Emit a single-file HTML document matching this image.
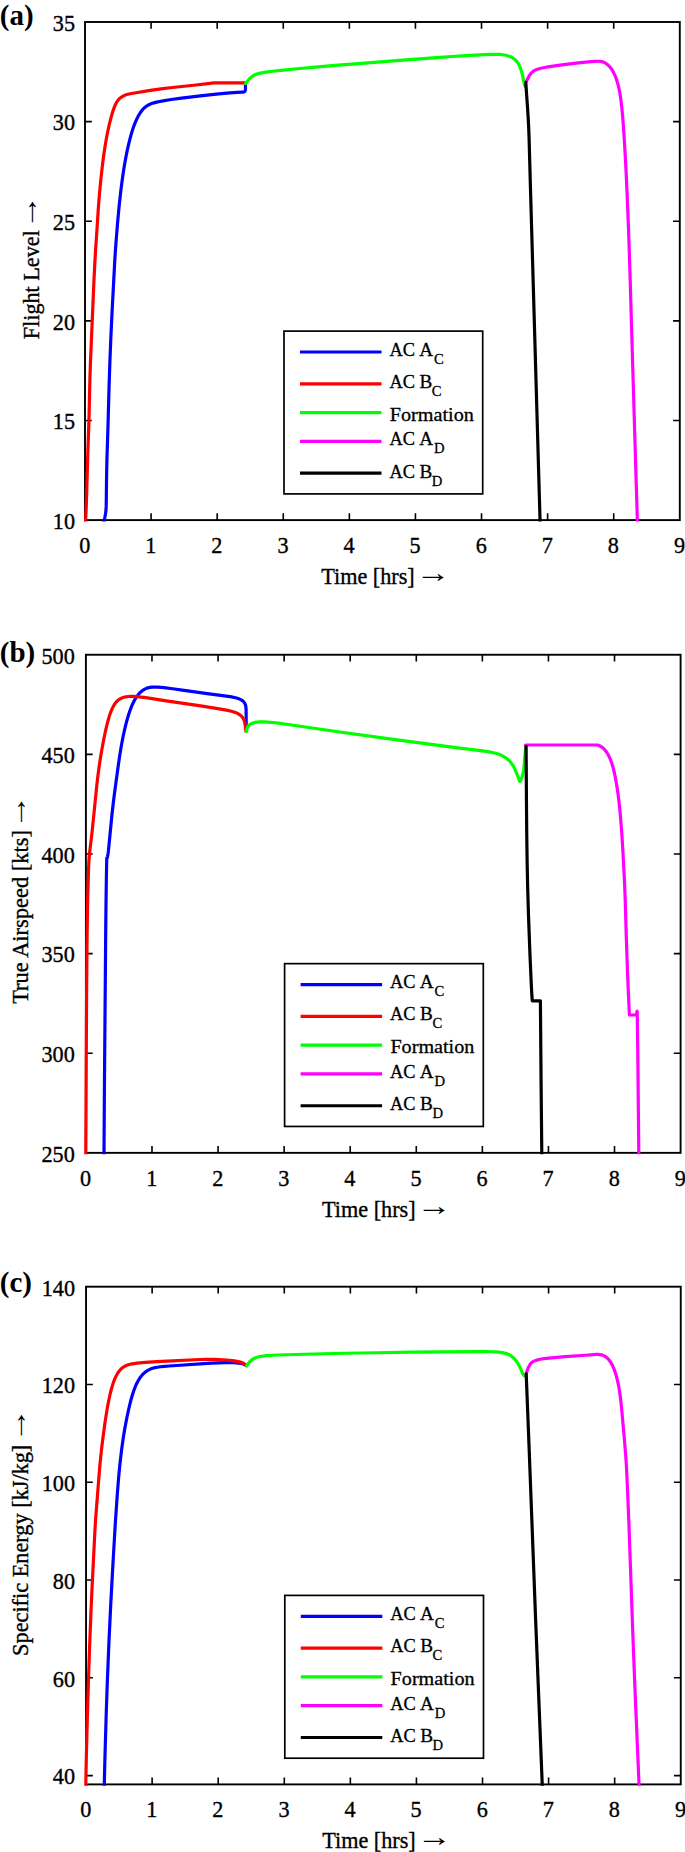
<!DOCTYPE html>
<html lang="en">
<head>
<meta charset="utf-8">
<title>Formation flight profiles</title>
<style>
html,body{margin:0;padding:0;background:#fff;}
body{width:685px;height:1852px;overflow:hidden;}
svg{display:block;}
text{font-family:"Liberation Serif", "DejaVu Serif", serif;fill:#000;}
.tk{font-size:22.2px;stroke:#000;stroke-width:0.35px;}
.ar{font-size:22.2px;}
.lg{font-size:19.2px;stroke:#000;stroke-width:0.3px;}
.sb{font-size:14.6px;stroke:#000;stroke-width:0.3px;}
.pn{font-size:29px;font-weight:bold;}
.ax{stroke:#000;stroke-width:1.9;fill:none;}
.tick{stroke:#000;stroke-width:1.6;fill:none;}
.cv{fill:none;stroke-width:3.2;stroke-linejoin:round;stroke-linecap:round;}
</style>
</head>
<body>
<svg width="685" height="1852" viewBox="0 0 685 1852">
<rect x="0" y="0" width="685" height="1852" fill="#ffffff"/>
<g id="chart-a">
<rect class="ax" x="85" y="22" width="594.8" height="498.1"/>
<path class="tick" d="M151.09 520.1 v-6.8 M151.09 22 v6.8 M217.18 520.1 v-6.8 M217.18 22 v6.8 M283.27 520.1 v-6.8 M283.27 22 v6.8 M349.36 520.1 v-6.8 M349.36 22 v6.8 M415.44 520.1 v-6.8 M415.44 22 v6.8 M481.53 520.1 v-6.8 M481.53 22 v6.8 M547.62 520.1 v-6.8 M547.62 22 v6.8 M613.71 520.1 v-6.8 M613.71 22 v6.8 M85 420.48 h6.8 M679.8 420.48 h-6.8 M85 320.86 h6.8 M679.8 320.86 h-6.8 M85 221.24 h6.8 M679.8 221.24 h-6.8 M85 121.62 h6.8 M679.8 121.62 h-6.8"/>
<clipPath id="clip-a"><rect x="83" y="22" width="598.8" height="499.5"/></clipPath>
<g clip-path="url(#clip-a)">
<path class="cv" stroke="#0000ff" d="M103.8 522 L104.85 517.39 L105.48 514.02 L105.89 510.85 L106.15 506.9 L106.26 502.56 L106.57 476.57 L106.9 460.81 L108.03 425.03 L109.13 384.43 L109.97 359.57 L110.9 336.42 L111.99 313.46 L114.62 263.55 L115.18 254.18 L115.81 245.07 L117.46 224.17 L119.05 206.95 L120.82 190.81 L121.74 183.52 L122.74 176.27 L123.83 169.1 L124.87 162.82 L125.99 156.68 L127.2 150.68 L128.48 144.87 L129.86 139.27 L131.14 134.57 L132.5 130.1 L133.53 127.05 L134.6 124.15 L135.72 121.39 L136.65 119.3 L137.87 116.84 L138.88 115 L139.93 113.28 L141.01 111.68 L142.14 110.22 L143.3 108.89 L144.51 107.71 L145.76 106.67 L147.06 105.76 L148.43 104.96 L149.88 104.26 L151.81 103.51 L153.91 102.84 L156.68 102.13 L159.75 101.46 L163.1 100.82 L171.17 99.52 L181.48 98.12 L200.36 95.86 L216.28 94.13 L229.65 92.91 L241.6 92.1 L242.47 92.18 L243.21 92.17 L243.82 92.05 L244.31 91.84 L244.7 91.53 L245 91.12 L245.21 90.63 L245.36 90.04 L245.49 88.61 L245.4 83.6"/>
<path class="cv" stroke="#ff0000" d="M85.3 522 L85.43 521.46 L85.57 520.14 L85.86 515.63 L86.21 507.51 L86.57 497.22 L87.82 452.54 L88.93 421.13 L89.89 379.75 L90.44 362.37 L93.86 282.46 L94.83 262.94 L95.77 247.18 L97.12 227.35 L98.21 210.04 L98.91 200.63 L99.65 192.03 L100.58 182.21 L101.51 173.33 L102.51 164.65 L103.48 157.04 L104.54 149.62 L105.56 143.19 L106.67 136.92 L107.88 130.82 L109.19 124.9 L110.58 119.3 L111.96 114.27 L113.44 109.57 L114.83 105.9 L116.21 102.97 L117.03 101.58 L117.74 100.57 L118.5 99.64 L119.35 98.77 L120.28 97.96 L121.54 97.03 L122.63 96.35 L124.03 95.6 L125.47 94.98 L126.9 94.48 L128.96 93.95 L131.52 93.48 L150.38 90.45 L160.99 88.91 L170.21 87.78 L193.77 85.22 L210.06 83.29 L213.5 82.95 L245.4 82.95"/>
<path class="cv" stroke="#00ff00" d="M245.6 83.6 L246.74 82.06 L248.19 80.27 L249.23 79.1 L250.59 77.75 L251.59 76.89 L252.9 75.92 L253.88 75.32 L255.18 74.66 L256.19 74.25 L257.64 73.79 L259.29 73.38 L261.72 72.87 L267.64 71.91 L274.73 71 L283.5 70.04 L294.65 68.97 L315.47 67.11 L335.13 65.43 L358.34 63.56 L399.44 60.47 L436.79 57.54 L451.58 56.51 L470.53 55.45 L484.54 54.59 L490.83 54.31 L495.36 54.27 L499.56 54.42 L502.88 54.75 L505.93 55.28 L508.27 55.92 L509.58 56.39 L510.82 56.93 L512.75 57.98 L514.5 59.25 L516.07 60.75 L517.49 62.49 L518.74 64.47 L519.84 66.73 L520.8 69.23 L521.63 71.9 L522.35 74.65 L524.34 83.79 L525 86.4"/>
<path class="cv" stroke="#ff00ff" d="M526.3 81.6 L528.05 77.97 L529.31 75.67 L530.42 74.02 L531.64 72.62 L533.04 71.42 L534.7 70.41 L536.71 69.52 L539.14 68.74 L543.16 67.77 L548.19 66.84 L554.84 65.8 L563.78 64.6 L576.11 63.15 L590.73 61.63 L595.18 61.28 L597.15 61.23 L598.7 61.26 L600.57 61.44 L602.02 61.72 L603.4 62.15 L605.04 62.89 L606.29 63.65 L607.76 64.78 L608.87 65.82 L610.18 67.29 L611.41 68.92 L612.55 70.7 L613.61 72.61 L614.78 75.07 L615.67 77.23 L616.64 79.93 L617.51 82.73 L618.29 85.6 L618.98 88.54 L619.59 91.56 L620.22 95.18 L620.78 98.94 L621.86 108.06 L622.83 118.63 L623.82 132.06 L624.94 150.05 L626 169.87 L627.04 192.19 L628.47 227.7 L629.83 267.9 L632.7 365.81 L637.4 522"/>
<path class="cv" stroke="#000000" d="M525.8 82.3 L526.27 89.92 L527.57 108.26 L528.15 117.38 L528.67 127.39 L529.07 137.7 L530.34 183.85 L540.1 522"/>
</g>
<text class="tk" transform="translate(84.7 552.9) scale(1 1.05)" text-anchor="middle">0</text>
<text class="tk" transform="translate(150.79 552.9) scale(1 1.05)" text-anchor="middle">1</text>
<text class="tk" transform="translate(216.88 552.9) scale(1 1.05)" text-anchor="middle">2</text>
<text class="tk" transform="translate(282.97 552.9) scale(1 1.05)" text-anchor="middle">3</text>
<text class="tk" transform="translate(349.06 552.9) scale(1 1.05)" text-anchor="middle">4</text>
<text class="tk" transform="translate(415.14 552.9) scale(1 1.05)" text-anchor="middle">5</text>
<text class="tk" transform="translate(481.23 552.9) scale(1 1.05)" text-anchor="middle">6</text>
<text class="tk" transform="translate(547.32 552.9) scale(1 1.05)" text-anchor="middle">7</text>
<text class="tk" transform="translate(613.41 552.9) scale(1 1.05)" text-anchor="middle">8</text>
<text class="tk" transform="translate(679.5 552.9) scale(1 1.05)" text-anchor="middle">9</text>
<text class="tk" transform="translate(75 528.9) scale(1 1.05)" text-anchor="end">10</text>
<text class="tk" transform="translate(75 429.28) scale(1 1.05)" text-anchor="end">15</text>
<text class="tk" transform="translate(75 329.66) scale(1 1.05)" text-anchor="end">20</text>
<text class="tk" transform="translate(75 230.04) scale(1 1.05)" text-anchor="end">25</text>
<text class="tk" transform="translate(75 130.42) scale(1 1.05)" text-anchor="end">30</text>
<text class="tk" transform="translate(75 30.8) scale(1 1.05)" text-anchor="end">35</text>
<text class="tk" transform="translate(321.2 583.9) scale(1 1.05)">Time [hrs]</text>
<text class="ar" transform="translate(415.6 582.15) scale(1.575 1.24)">→</text>
<text class="tk" transform="translate(38.9 339.2) rotate(-90) scale(1 1.05)" textLength="108.9" lengthAdjust="spacingAndGlyphs">Flight Level</text>
<text class="ar" transform="translate(37.15 229.55) rotate(-90) scale(1.575 1.24)">→</text>
<text class="pn" x="-0.2" y="25.1">(a)</text>
<rect x="284" y="331.1" width="198.7" height="162.8" fill="#fff" stroke="#000" stroke-width="1.7"/>
<path d="M300 352 H381.5" stroke="#0000ff" stroke-width="3.2" fill="none"/>
<text class="lg" x="389.4" y="355.7" textLength="25.5" lengthAdjust="spacingAndGlyphs">AC</text>
<text class="lg" x="419.15" y="355.7">A</text>
<text class="sb" x="433.9" y="363.7">C</text>
<path d="M300 383.9 H381.5" stroke="#ff0000" stroke-width="3.2" fill="none"/>
<text class="lg" x="389.4" y="387.85" textLength="25.5" lengthAdjust="spacingAndGlyphs">AC</text>
<text class="lg" x="419.4" y="387.85">B</text>
<text class="sb" x="431.8" y="395.85">C</text>
<path d="M300 412.6 H381.5" stroke="#00ff00" stroke-width="3.2" fill="none"/>
<text class="lg" x="389.8" y="420.55" textLength="84" lengthAdjust="spacingAndGlyphs">Formation</text>
<path d="M300 441.3 H381.5" stroke="#ff00ff" stroke-width="3.2" fill="none"/>
<text class="lg" x="389.4" y="445.4" textLength="25.5" lengthAdjust="spacingAndGlyphs">AC</text>
<text class="lg" x="419.15" y="445.4">A</text>
<text class="sb" x="433.9" y="453.4">D</text>
<path d="M300 473.2 H381.5" stroke="#000000" stroke-width="3.2" fill="none"/>
<text class="lg" x="389.4" y="477.5" textLength="25.5" lengthAdjust="spacingAndGlyphs">AC</text>
<text class="lg" x="419.4" y="477.5">B</text>
<text class="sb" x="431.8" y="485.5">D</text>
</g>
<g id="chart-b">
<rect class="ax" x="85.9" y="654.75" width="594.7" height="498.1"/>
<path class="tick" d="M151.98 1152.85 v-6.8 M151.98 654.75 v6.8 M218.06 1152.85 v-6.8 M218.06 654.75 v6.8 M284.13 1152.85 v-6.8 M284.13 654.75 v6.8 M350.21 1152.85 v-6.8 M350.21 654.75 v6.8 M416.29 1152.85 v-6.8 M416.29 654.75 v6.8 M482.37 1152.85 v-6.8 M482.37 654.75 v6.8 M548.44 1152.85 v-6.8 M548.44 654.75 v6.8 M614.52 1152.85 v-6.8 M614.52 654.75 v6.8 M85.9 1053.23 h6.8 M680.6 1053.23 h-6.8 M85.9 953.61 h6.8 M680.6 953.61 h-6.8 M85.9 853.99 h6.8 M680.6 853.99 h-6.8 M85.9 754.37 h6.8 M680.6 754.37 h-6.8"/>
<clipPath id="clip-b"><rect x="83.9" y="654.75" width="598.7" height="499.5"/></clipPath>
<g clip-path="url(#clip-b)">
<path class="cv" stroke="#0000ff" d="M104 1154 L104.43 1086.38 L105.74 927.74 L106.04 900.77 L106.38 877.45 L106.73 858.98 L106.8 857.75 L106.9 858.7 L107.27 857.79 L107.62 856.24 L108.06 853.54 L108.49 850.15 L111.92 815.02 L113.25 803.23 L114.64 792.09 L118.53 763.73 L119.55 756.61 L121.21 746.49 L122.84 737.77 L124.72 729.07 L126.63 721.48 L127.77 717.43 L128.74 714.3 L129.75 711.29 L130.8 708.42 L131.89 705.7 L133.02 703.15 L134.2 700.79 L135.43 698.62 L136.7 696.65 L138.02 694.88 L139.05 693.68 L140.47 692.24 L141.95 690.98 L143.88 689.66 L145.92 688.62 L148.08 687.83 L149.88 687.4 L152.25 687.07 L154.79 686.98 L157.64 687.09 L163.94 687.68 L172.65 688.75 L182.36 690.09 L207.16 693.69 L228.14 696.37 L231.63 696.92 L234.26 697.45 L236.63 698.04 L238.75 698.73 L240.26 699.36 L241.59 700.08 L242.76 700.89 L243.53 701.59 L244.39 702.64 L244.92 703.55 L245.34 704.56 L245.67 705.69 L245.94 707.39 L246.11 709.75 L246.19 724.11 L246.29 727.58 L246.5 731"/>
<path class="cv" stroke="#ff0000" d="M85.8 1154 L86.5 1008.9 L86.97 947.29 L87.31 920.18 L87.73 897.07 L88.45 871.48 L88.84 862.01 L89.17 857.36 L89.59 852.93 L91.55 836.5 L92.44 828.53 L96.83 785.15 L98 774.95 L99.26 765.61 L100.58 757.08 L102.07 748.41 L103.64 740.02 L105.18 732.49 L106.61 726.14 L107.91 721.02 L109.27 716.32 L110.73 712.09 L111.85 709.37 L113.03 706.9 L114.29 704.7 L115.65 702.78 L117.11 701.14 L118.35 700.03 L120.03 698.87 L121.86 697.96 L123.84 697.27 L126.01 696.79 L128.37 696.5 L130.94 696.39 L133.71 696.44 L137.28 696.67 L141.11 697.07 L145.89 697.71 L166.21 700.84 L200.71 705.93 L214.71 708.1 L222.07 709.35 L227.71 710.42 L231.44 711.26 L234.58 712.17 L236.29 712.83 L237.56 713.42 L238.74 714.09 L239.85 714.83 L240.88 715.67 L241.82 716.61 L242.66 717.65 L243.21 718.5 L243.69 719.42 L244.11 720.42 L244.45 721.47 L244.81 722.97 L245.19 725.35 L245.9 731.4"/>
<path class="cv" stroke="#00ff00" d="M246.3 731.4 L246.57 729.92 L246.96 728.61 L247.47 727.43 L248.32 726.09 L249.08 725.23 L249.94 724.49 L250.91 723.86 L252.35 723.18 L253.54 722.78 L255.26 722.38 L257.14 722.11 L259.16 721.95 L261.32 721.89 L264.2 721.91 L267.25 722.05 L270.48 722.29 L276.64 722.92 L284.67 723.97 L339.81 731.98 L385.88 738.4 L450.08 746.9 L461.69 748.37 L480.58 750.65 L485.93 751.4 L490.28 752.12 L493.75 752.81 L496.46 753.5 L499.02 754.33 L501.42 755.33 L503.68 756.48 L505.77 757.82 L507.72 759.32 L509.16 760.66 L510.82 762.5 L512.04 764.11 L513.16 765.85 L514.42 768.16 L515.33 770.09 L516.37 772.53 L519.7 781.4 L520.25 780.82 L520.76 780.09 L521.23 779.21 L521.66 778.19 L522.05 777.04 L522.58 775.12 L523.32 771.46 L523.79 768.24 L524.27 763.98 L525.43 749.38 L525.8 745.8"/>
<path class="cv" stroke="#ff00ff" d="M525.5 745 L597.7 745 L599.51 745.73 L600.53 746.27 L601.52 746.9 L602.47 747.6 L603.38 748.38 L605.08 750.17 L606.64 752.23 L608.08 754.56 L609.39 757.14 L610.78 760.44 L611.86 763.49 L613 767.3 L614.04 771.35 L615.11 776.24 L616.08 781.36 L617.07 787.37 L617.97 793.6 L618.88 800.76 L619.61 807.38 L620.34 814.92 L621.59 830.4 L622.76 848.59 L624.1 873.83 L624.74 887.59 L625.22 900.05 L626.26 935.98 L627.53 972.51 L628.14 987.38 L629.4 1015 L636.1 1015 L637.2 1011.2 L637.72 1046.13 L638.8 1154"/>
<path class="cv" stroke="#000000" d="M526.1 746.6 L526.46 802.31 L526.73 833.35 L527.12 861.39 L527.62 885.81 L528.5 915.58 L530 955.46 L531.4 986.95 L531.89 995.74 L532.3 1000.8 L540.4 1000.8 L541.06 1079.94 L541.8 1154"/>
</g>
<text class="tk" transform="translate(85.6 1185.65) scale(1 1.05)" text-anchor="middle">0</text>
<text class="tk" transform="translate(151.68 1185.65) scale(1 1.05)" text-anchor="middle">1</text>
<text class="tk" transform="translate(217.76 1185.65) scale(1 1.05)" text-anchor="middle">2</text>
<text class="tk" transform="translate(283.83 1185.65) scale(1 1.05)" text-anchor="middle">3</text>
<text class="tk" transform="translate(349.91 1185.65) scale(1 1.05)" text-anchor="middle">4</text>
<text class="tk" transform="translate(415.99 1185.65) scale(1 1.05)" text-anchor="middle">5</text>
<text class="tk" transform="translate(482.07 1185.65) scale(1 1.05)" text-anchor="middle">6</text>
<text class="tk" transform="translate(548.14 1185.65) scale(1 1.05)" text-anchor="middle">7</text>
<text class="tk" transform="translate(614.22 1185.65) scale(1 1.05)" text-anchor="middle">8</text>
<text class="tk" transform="translate(680.3 1185.65) scale(1 1.05)" text-anchor="middle">9</text>
<text class="tk" transform="translate(74.8 1161.65) scale(1 1.05)" text-anchor="end">250</text>
<text class="tk" transform="translate(74.8 1062.03) scale(1 1.05)" text-anchor="end">300</text>
<text class="tk" transform="translate(74.8 962.41) scale(1 1.05)" text-anchor="end">350</text>
<text class="tk" transform="translate(74.8 862.79) scale(1 1.05)" text-anchor="end">400</text>
<text class="tk" transform="translate(74.8 763.17) scale(1 1.05)" text-anchor="end">450</text>
<text class="tk" transform="translate(74.8 663.55) scale(1 1.05)" text-anchor="end">500</text>
<text class="tk" transform="translate(322.1 1216.65) scale(1 1.05)">Time [hrs]</text>
<text class="ar" transform="translate(416.5 1214.9) scale(1.575 1.24)">→</text>
<text class="tk" transform="translate(27.5 1003.8) rotate(-90) scale(1 1.05)" textLength="173.7" lengthAdjust="spacingAndGlyphs">True Airspeed [kts]</text>
<text class="ar" transform="translate(25.75 829.25) rotate(-90) scale(1.575 1.24)">→</text>
<text class="pn" x="-0.2" y="662.4">(b)</text>
<rect x="284.6" y="963.65" width="198.7" height="162.8" fill="#fff" stroke="#000" stroke-width="1.7"/>
<path d="M300.6 984.55 H382.1" stroke="#0000ff" stroke-width="3.2" fill="none"/>
<text class="lg" x="390" y="988.25" textLength="25.5" lengthAdjust="spacingAndGlyphs">AC</text>
<text class="lg" x="419.75" y="988.25">A</text>
<text class="sb" x="434.5" y="996.25">C</text>
<path d="M300.6 1016.45 H382.1" stroke="#ff0000" stroke-width="3.2" fill="none"/>
<text class="lg" x="390" y="1020.4" textLength="25.5" lengthAdjust="spacingAndGlyphs">AC</text>
<text class="lg" x="420" y="1020.4">B</text>
<text class="sb" x="432.4" y="1028.4">C</text>
<path d="M300.6 1045.15 H382.1" stroke="#00ff00" stroke-width="3.2" fill="none"/>
<text class="lg" x="390.4" y="1053.1" textLength="84" lengthAdjust="spacingAndGlyphs">Formation</text>
<path d="M300.6 1073.85 H382.1" stroke="#ff00ff" stroke-width="3.2" fill="none"/>
<text class="lg" x="390" y="1077.95" textLength="25.5" lengthAdjust="spacingAndGlyphs">AC</text>
<text class="lg" x="419.75" y="1077.95">A</text>
<text class="sb" x="434.5" y="1085.95">D</text>
<path d="M300.6 1105.75 H382.1" stroke="#000000" stroke-width="3.2" fill="none"/>
<text class="lg" x="390" y="1110.05" textLength="25.5" lengthAdjust="spacingAndGlyphs">AC</text>
<text class="lg" x="420" y="1110.05">B</text>
<text class="sb" x="432.4" y="1118.05">D</text>
</g>
<g id="chart-c">
<rect class="ax" x="86.05" y="1286.7" width="594.7" height="497.7"/>
<path class="tick" d="M152.13 1784.4 v-6.8 M152.13 1286.7 v6.8 M218.21 1784.4 v-6.8 M218.21 1286.7 v6.8 M284.28 1784.4 v-6.8 M284.28 1286.7 v6.8 M350.36 1784.4 v-6.8 M350.36 1286.7 v6.8 M416.44 1784.4 v-6.8 M416.44 1286.7 v6.8 M482.52 1784.4 v-6.8 M482.52 1286.7 v6.8 M548.59 1784.4 v-6.8 M548.59 1286.7 v6.8 M614.67 1784.4 v-6.8 M614.67 1286.7 v6.8 M86.05 1775.6 h6.8 M680.75 1775.6 h-6.8 M86.05 1677.82 h6.8 M680.75 1677.82 h-6.8 M86.05 1580.04 h6.8 M680.75 1580.04 h-6.8 M86.05 1482.26 h6.8 M680.75 1482.26 h-6.8 M86.05 1384.48 h6.8 M680.75 1384.48 h-6.8"/>
<clipPath id="clip-c"><rect x="84.05" y="1286.7" width="598.7" height="499.1"/></clipPath>
<g clip-path="url(#clip-c)">
<path class="cv" stroke="#0000ff" d="M104.3 1786 L104.44 1777.54 L104.97 1756.47 L106.25 1712.81 L107.55 1676.02 L109.02 1640.34 L110.73 1604.57 L113 1562.74 L115.28 1523.9 L117.18 1495.8 L118.6 1477.89 L119.87 1464.61 L121.52 1450.43 L122.47 1443.39 L123.38 1437.24 L124.5 1430.36 L125.7 1423.7 L126.95 1417.3 L128.4 1410.46 L129.73 1404.74 L130.94 1399.99 L132.24 1395.45 L133.43 1391.71 L134.5 1388.73 L135.41 1386.43 L136.61 1383.72 L137.63 1381.68 L138.7 1379.78 L139.83 1378.02 L141.01 1376.41 L142.26 1374.93 L143.56 1373.59 L144.93 1372.39 L146.35 1371.31 L147.84 1370.37 L149.4 1369.55 L151.02 1368.85 L152.72 1368.26 L154.96 1367.67 L157.36 1367.21 L160.5 1366.76 L164.54 1366.33 L168.99 1365.98 L211.46 1363.21 L219.01 1362.81 L224.97 1362.61 L229.42 1362.56 L233.01 1362.62 L236.3 1362.8 L238.86 1363.08 L241.17 1363.49 L243.2 1364.05 L244.95 1364.78 L245.71 1365.22 L246.4 1365.7"/>
<path class="cv" stroke="#ff0000" d="M85.8 1786 L85.74 1787.03 L85.73 1786.59 L86.35 1756.27 L87.24 1720.9 L88.39 1682.48 L89.67 1644.98 L90.84 1615.18 L91.97 1589.37 L94.94 1530.28 L95.65 1518.72 L98.82 1478.01 L99.94 1464.85 L100.74 1456.67 L101.55 1449.17 L102.44 1441.73 L103.65 1432.44 L104.96 1422.96 L106.22 1414.63 L107.49 1407.06 L108.74 1400.47 L110.11 1394.16 L111.41 1389 L112.81 1384.28 L114.09 1380.64 L114.99 1378.42 L115.94 1376.37 L116.94 1374.49 L117.99 1372.77 L119.09 1371.21 L120.26 1369.82 L121.49 1368.59 L122.78 1367.52 L123.8 1366.82 L125.23 1366.01 L126.76 1365.33 L128.41 1364.77 L130.19 1364.29 L132.12 1363.9 L134.21 1363.56 L137.08 1363.19 L142.3 1362.68 L148.97 1362.15 L157.06 1361.64 L167.2 1361.09 L199.82 1359.48 L207.11 1359.28 L213.19 1359.31 L219.5 1359.54 L226.43 1360.03 L232.28 1360.65 L237.27 1361.41 L240.4 1362.12 L241.69 1362.54 L242.58 1362.91 L243.68 1363.51 L244.47 1364.04 L246 1365.4"/>
<path class="cv" stroke="#00ff00" d="M246.7 1365.9 L247.5 1364.57 L248.37 1363.33 L249.3 1362.18 L250.32 1361.13 L251.43 1360.18 L252.65 1359.32 L253.99 1358.56 L255.07 1358.04 L256.24 1357.58 L257.91 1357.05 L261.17 1356.31 L265.37 1355.71 L270.65 1355.29 L277.83 1355 L323.05 1353.73 L345.14 1353.27 L376.39 1352.73 L412.31 1352.2 L442.53 1351.86 L480.91 1351.61 L487.1 1351.63 L491.67 1351.73 L494.72 1351.89 L498.25 1352.2 L502.14 1352.67 L504.58 1353.1 L506.47 1353.61 L508.26 1354.29 L509.94 1355.16 L511.52 1356.2 L512.99 1357.4 L514.37 1358.74 L515.66 1360.22 L517.14 1362.23 L518.49 1364.4 L519.71 1366.72 L520.6 1368.66 L522.4 1372.93 L523.15 1374.45 L523.91 1375.53 L524.3 1375.85 L524.7 1376"/>
<path class="cv" stroke="#ff00ff" d="M526.2 1373.5 L527.45 1369.82 L528.51 1367.18 L529.49 1365.3 L530.59 1363.74 L531.22 1363.06 L531.91 1362.44 L532.67 1361.89 L533.51 1361.38 L535.11 1360.65 L537.4 1359.9 L540.19 1359.28 L544.15 1358.64 L548.88 1358.07 L554.22 1357.54 L565.03 1356.67 L585.53 1355.24 L594.06 1354.54 L596.12 1354.43 L598.09 1354.44 L599.99 1354.6 L601.44 1354.87 L602.83 1355.29 L604.15 1355.87 L605.4 1356.6 L606.57 1357.48 L607.69 1358.5 L608.99 1359.94 L609.97 1361.23 L611.11 1362.99 L612.17 1364.9 L613.14 1366.94 L614.05 1369.11 L614.88 1371.37 L615.65 1373.71 L616.49 1376.61 L617.84 1382.08 L618.98 1387.81 L620.02 1394.47 L620.91 1401.7 L621.9 1411.67 L624.79 1443.77 L625.79 1456.36 L626.48 1467.22 L627.53 1489.78 L629.02 1526.44 L632.65 1628.91 L634.23 1670.54 L635.64 1705 L639.1 1786"/>
<path class="cv" stroke="#000000" d="M526.2 1373.8 L529.01 1445.19 L535.71 1621.85 L542.3 1786"/>
</g>
<text class="tk" transform="translate(85.75 1817.2) scale(1 1.05)" text-anchor="middle">0</text>
<text class="tk" transform="translate(151.83 1817.2) scale(1 1.05)" text-anchor="middle">1</text>
<text class="tk" transform="translate(217.91 1817.2) scale(1 1.05)" text-anchor="middle">2</text>
<text class="tk" transform="translate(283.98 1817.2) scale(1 1.05)" text-anchor="middle">3</text>
<text class="tk" transform="translate(350.06 1817.2) scale(1 1.05)" text-anchor="middle">4</text>
<text class="tk" transform="translate(416.14 1817.2) scale(1 1.05)" text-anchor="middle">5</text>
<text class="tk" transform="translate(482.22 1817.2) scale(1 1.05)" text-anchor="middle">6</text>
<text class="tk" transform="translate(548.29 1817.2) scale(1 1.05)" text-anchor="middle">7</text>
<text class="tk" transform="translate(614.37 1817.2) scale(1 1.05)" text-anchor="middle">8</text>
<text class="tk" transform="translate(680.45 1817.2) scale(1 1.05)" text-anchor="middle">9</text>
<text class="tk" transform="translate(75 1784.4) scale(1 1.05)" text-anchor="end">40</text>
<text class="tk" transform="translate(75 1686.62) scale(1 1.05)" text-anchor="end">60</text>
<text class="tk" transform="translate(75 1588.84) scale(1 1.05)" text-anchor="end">80</text>
<text class="tk" transform="translate(75 1491.06) scale(1 1.05)" text-anchor="end">100</text>
<text class="tk" transform="translate(75 1393.28) scale(1 1.05)" text-anchor="end">120</text>
<text class="tk" transform="translate(75 1295.5) scale(1 1.05)" text-anchor="end">140</text>
<text class="tk" transform="translate(322.25 1848.2) scale(1 1.05)">Time [hrs]</text>
<text class="ar" transform="translate(416.65 1846.45) scale(1.575 1.24)">→</text>
<text class="tk" transform="translate(27.8 1655.9) rotate(-90) scale(1 1.05)" textLength="211.2" lengthAdjust="spacingAndGlyphs">Specific Energy [kJ/kg]</text>
<text class="ar" transform="translate(26.05 1442.85) rotate(-90) scale(1.575 1.24)">→</text>
<text class="pn" x="-0.2" y="1291.9">(c)</text>
<rect x="284.8" y="1595.4" width="198.7" height="162.8" fill="#fff" stroke="#000" stroke-width="1.7"/>
<path d="M300.8 1616.3 H382.3" stroke="#0000ff" stroke-width="3.2" fill="none"/>
<text class="lg" x="390.2" y="1620" textLength="25.5" lengthAdjust="spacingAndGlyphs">AC</text>
<text class="lg" x="419.95" y="1620">A</text>
<text class="sb" x="434.7" y="1628">C</text>
<path d="M300.8 1648.2 H382.3" stroke="#ff0000" stroke-width="3.2" fill="none"/>
<text class="lg" x="390.2" y="1652.15" textLength="25.5" lengthAdjust="spacingAndGlyphs">AC</text>
<text class="lg" x="420.2" y="1652.15">B</text>
<text class="sb" x="432.6" y="1660.15">C</text>
<path d="M300.8 1676.9 H382.3" stroke="#00ff00" stroke-width="3.2" fill="none"/>
<text class="lg" x="390.6" y="1684.85" textLength="84" lengthAdjust="spacingAndGlyphs">Formation</text>
<path d="M300.8 1705.6 H382.3" stroke="#ff00ff" stroke-width="3.2" fill="none"/>
<text class="lg" x="390.2" y="1709.7" textLength="25.5" lengthAdjust="spacingAndGlyphs">AC</text>
<text class="lg" x="419.95" y="1709.7">A</text>
<text class="sb" x="434.7" y="1717.7">D</text>
<path d="M300.8 1737.5 H382.3" stroke="#000000" stroke-width="3.2" fill="none"/>
<text class="lg" x="390.2" y="1741.8" textLength="25.5" lengthAdjust="spacingAndGlyphs">AC</text>
<text class="lg" x="420.2" y="1741.8">B</text>
<text class="sb" x="432.6" y="1749.8">D</text>
</g>
</svg>
</body>
</html>
